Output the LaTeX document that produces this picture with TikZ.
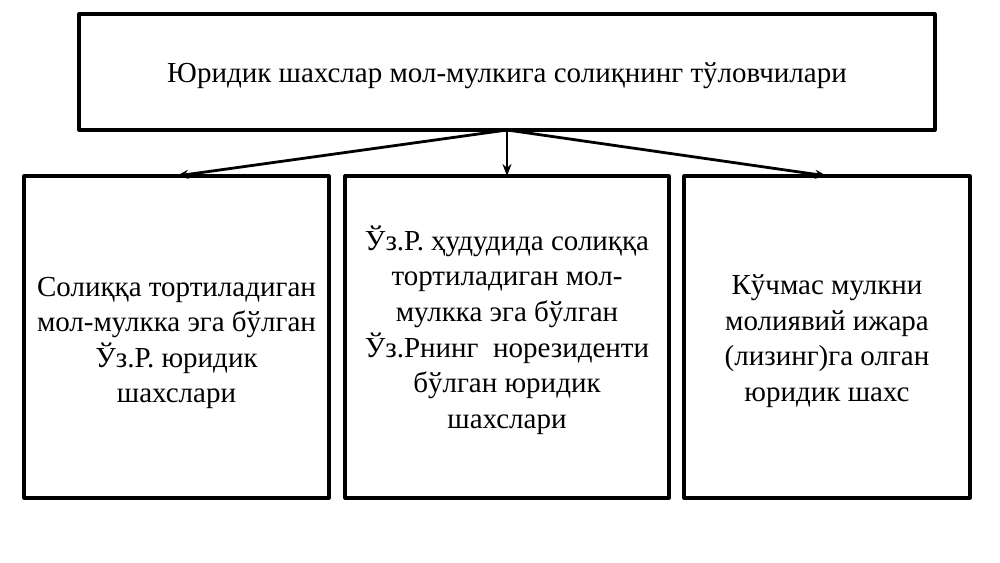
\documentclass[tikz,border=0pt]{standalone}
\usepackage{fontspec}
\setmainfont{Liberation Serif}
\usetikzlibrary{arrows.meta}
\begin{document}
\begin{tikzpicture}[x=1pt, y=1pt, line join=round, >={Stealth[length=12pt,width=9pt]},
  font=\fontsize{29}{35.6}\selectfont,
  box/.style={draw, line width=3.2pt, rectangle, inner sep=0pt, outer sep=0pt},
  txt/.style={align=center, inner sep=0pt},
  link/.style={->, line width=2.8pt}]
\useasboundingbox (0,0) rectangle (1000,562);
% boxes
\node[box, minimum width=856, minimum height=116] (payers) at (507,490) {};
\node[box, minimum width=305, minimum height=322] (resid) at (176.5,225) {};
\node[box, minimum width=324, minimum height=322] (nonres) at (507,225) {};
\node[box, minimum width=286, minimum height=322] (lease) at (827,225) {};
% texts
\node[txt] (payers-t) at ([yshift=-4]payers.center)
  {Юридик шахслар мол-мулкига солиқнинг тўловчилари};
\node[txt] (resid-t) at ([yshift=-6]resid.center)
  {Солиққа тортиладиган\\мол-мулкка эга бўлган\\Ўз.Р. юридик\\шахслари};
\node[txt] (nonres-t) at ([yshift=7]nonres.center)
  {Ўз.Р. ҳудудида солиққа\\тортиладиган мол-\\мулкка эга бўлган\\Ўз.Рнинг\ \ норезиденти\\бўлган юридик\\шахслари};
\node[txt] (lease-t) at ([yshift=-4]lease.center)
  {Кўчмас мулкни\\молиявий ижара\\(лизинг)га олган\\юридик шахс};
\foreach \t in {resid,nonres,lease}
  \draw[link] (payers.south) -- (\t.north);
\end{tikzpicture}
\end{document}
